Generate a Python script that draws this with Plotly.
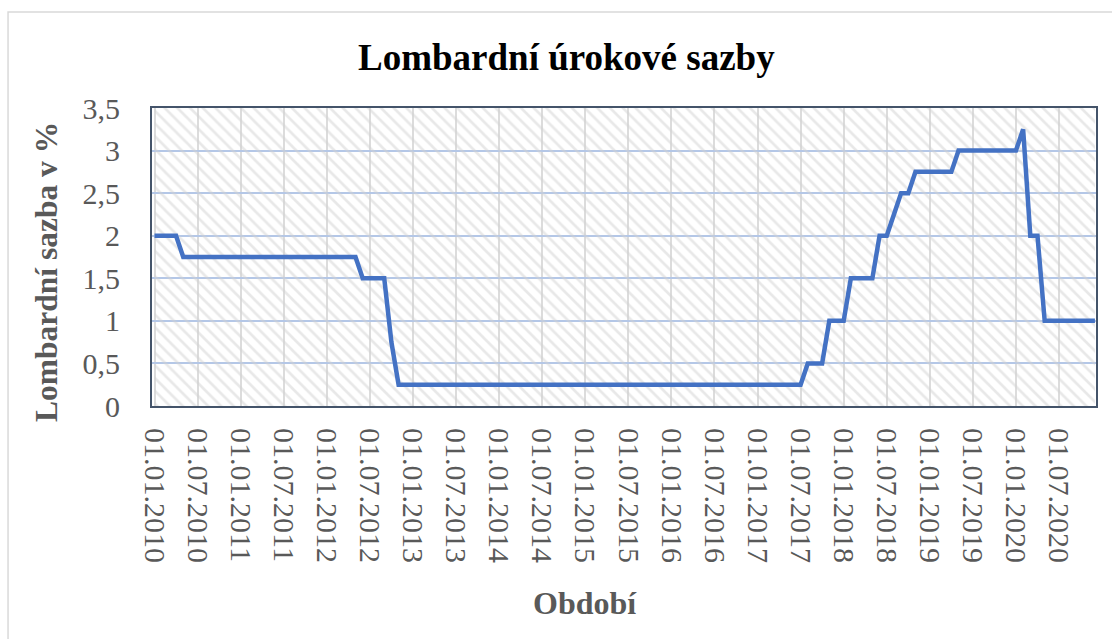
import plotly.graph_objects as go

# ---- data -------------------------------------------------------------
years = list(range(2010, 2021))
months = list(range(1, 13))
dates = [f"01.{m:02d}.{y}" for y in years for m in months]

rate_2010 = [2.0, 2.0, 2.0, 2.0, 1.75, 1.75, 1.75, 1.75, 1.75, 1.75, 1.75, 1.75]
rate_2011 = [1.75, 1.75, 1.75, 1.75, 1.75, 1.75, 1.75, 1.75, 1.75, 1.75, 1.75, 1.75]
rate_2012 = [1.75, 1.75, 1.75, 1.75, 1.75, 1.5, 1.5, 1.5, 1.5, 0.75, 0.25, 0.25]
rate_2013 = [0.25, 0.25, 0.25, 0.25, 0.25, 0.25, 0.25, 0.25, 0.25, 0.25, 0.25, 0.25]
rate_2014 = [0.25, 0.25, 0.25, 0.25, 0.25, 0.25, 0.25, 0.25, 0.25, 0.25, 0.25, 0.25]
rate_2015 = [0.25, 0.25, 0.25, 0.25, 0.25, 0.25, 0.25, 0.25, 0.25, 0.25, 0.25, 0.25]
rate_2016 = [0.25, 0.25, 0.25, 0.25, 0.25, 0.25, 0.25, 0.25, 0.25, 0.25, 0.25, 0.25]
rate_2017 = [0.25, 0.25, 0.25, 0.25, 0.25, 0.25, 0.25, 0.5, 0.5, 0.5, 1.0, 1.0]
rate_2018 = [1.0, 1.5, 1.5, 1.5, 1.5, 2.0, 2.0, 2.25, 2.5, 2.5, 2.75, 2.75]
rate_2019 = [2.75, 2.75, 2.75, 2.75, 3.0, 3.0, 3.0, 3.0, 3.0, 3.0, 3.0, 3.0]
rate_2020 = [3.0, 3.25, 2.0, 2.0, 1.0, 1.0, 1.0, 1.0, 1.0, 1.0, 1.0, 1.0]

rates = (rate_2010 + rate_2011 + rate_2012 + rate_2013 + rate_2014 + rate_2015
         + rate_2016 + rate_2017 + rate_2018 + rate_2019 + rate_2020)

tick_dates = dates[::6]
y_max = 3.5
y_step = 0.5

title_text = "Lombardní úrokové sazby"
x_title = "Období"
y_title = "Lombardní sazba v %"

# ---- figure -----------------------------------------------------------
FONT = "Liberation Serif, Times New Roman, serif"
GREY = "#595959"

fig = go.Figure()

# hatched plot-area background
fig.add_trace(go.Scatter(
    x=[dates[0], dates[-1], dates[-1], dates[0], dates[0]],
    y=[0, 0, y_max, y_max, 0],
    mode="none", fill="toself", fillcolor="rgba(0,0,0,0)",
    fillpattern=dict(shape="\\", fgcolor="#d2d2d2", bgcolor="rgba(0,0,0,0)",
                     size=9, solidity=0.3),
    hoverinfo="skip", showlegend=False,
))

fig.add_trace(go.Scatter(
    x=dates, y=rates, mode="lines",
    line=dict(color="#4472C4", width=4.5),
    showlegend=False,
))

fig.update_layout(
    width=1112, height=639,
    margin=dict(l=152, r=16, t=108, b=233),
    paper_bgcolor="white", plot_bgcolor="white",
    separators=", ",
    font=dict(family=FONT, color=GREY, size=30),
)

fig.update_xaxes(
    type="category", categoryorder="array", categoryarray=dates,
    range=[-0.35, len(dates) - 1 + 0.15],
    tickmode="array", tickvals=tick_dates, ticktext=tick_dates,
    tickangle=90, ticks="", ticklabelstandoff=14,
    tickfont=dict(family=FONT, size=30, color=GREY),
    showgrid=True, gridcolor="#dcdcdc", gridwidth=1.5,
    showline=True, linecolor="#44546A", linewidth=2, mirror=True,
    zeroline=False,
)
fig.update_yaxes(
    range=[0, y_max], dtick=y_step, tick0=0,
    ticks="", ticklabelstandoff=24,
    tickfont=dict(family=FONT, size=30, color=GREY),
    showgrid=True, gridcolor="#B4C7E7", gridwidth=1.5,
    showline=True, linecolor="#44546A", linewidth=2, mirror=True,
    zeroline=False,
)

# titles as annotations
fig.add_annotation(text=f"<b>{title_text}</b>", xref="paper", yref="paper",
                   x=0.4396, y=1.171, xanchor="center", yanchor="middle",
                   showarrow=False, font=dict(family=FONT, size=37, color="black"))
fig.add_annotation(text=f"<b>{x_title}</b>", xref="paper", yref="paper",
                   x=0.4587, y=-0.661, xanchor="center", yanchor="middle",
                   showarrow=False, font=dict(family=FONT, size=32, color=GREY))
fig.add_annotation(text=f"<b>{y_title}</b>", xref="paper", yref="paper",
                   x=-0.1112, y=0.4497, xanchor="center", yanchor="middle",
                   textangle=-90, showarrow=False,
                   font=dict(family=FONT, size=31.5, color=GREY))

# outer chart border
fig.add_shape(type="rect", xref="paper", yref="paper",
              x0=-0.1525, x1=1.03, y0=-0.81, y1=1.3221,
              line=dict(color="#d9d9d9", width=1.5), fillcolor="rgba(0,0,0,0)",
              layer="below")

fig.write_html(
    "out.html",
    config={"displayModeBar": False},
    post_script="document.body.style.margin='0';document.body.style.overflow='hidden';",
)
